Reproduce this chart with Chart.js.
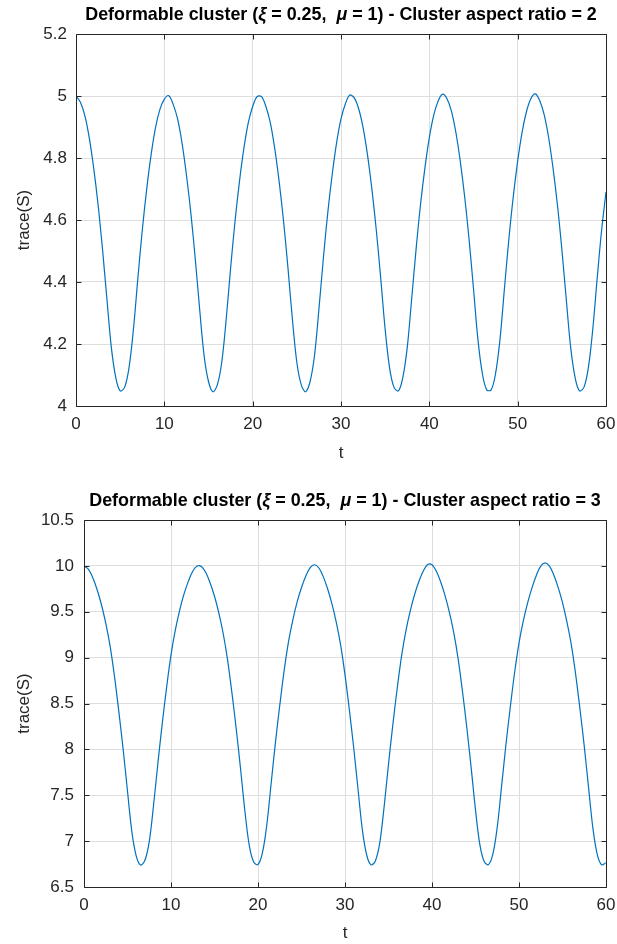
<!DOCTYPE html>
<html>
<head>
<meta charset="utf-8">
<script src="https://cdn.jsdelivr.net/npm/chart.js@4.4.1/dist/chart.umd.min.js"></script>
<style>
  html, body { margin: 0; padding: 0; background: #fff; }
  #fig { position: relative; width: 617px; height: 944px; }
  #fig canvas { position: absolute; left: 0; }
</style>
</head>
<body>
<div id="fig">
  <canvas id="chartAR2" width="617" height="472" style="top:0px"></canvas>
  <canvas id="chartAR3" width="617" height="472" style="top:472px"></canvas>
</div>
<script>
// time samples (read every 0.5 along t)
const tValues = [
  0, 0.5, 1, 1.5, 2, 2.5, 3, 3.5, 4, 4.5, 5, 5.5, 6, 6.5, 7, 7.5, 8, 8.5, 9, 9.5,
  10, 10.5, 11, 11.5, 12, 12.5, 13, 13.5, 14, 14.5, 15, 15.5, 16, 16.5, 17, 17.5, 18, 18.5, 19, 19.5,
  20, 20.5, 21, 21.5, 22, 22.5, 23, 23.5, 24, 24.5, 25, 25.5, 26, 26.5, 27, 27.5, 28, 28.5, 29, 29.5,
  30, 30.5, 31, 31.5, 32, 32.5, 33, 33.5, 34, 34.5, 35, 35.5, 36, 36.5, 37, 37.5, 38, 38.5, 39, 39.5,
  40, 40.5, 41, 41.5, 42, 42.5, 43, 43.5, 44, 44.5, 45, 45.5, 46, 46.5, 47, 47.5, 48, 48.5, 49, 49.5,
  50, 50.5, 51, 51.5, 52, 52.5, 53, 53.5, 54, 54.5, 55, 55.5, 56, 56.5, 57, 57.5, 58, 58.5, 59, 59.5,
  60
];

// trace(S), aspect ratio 2
const traceAR2 = [
  5.000, 4.980, 4.937, 4.866, 4.768, 4.649, 4.506, 4.345, 4.189, 4.092, 4.049, 4.060, 4.123, 4.247, 4.411, 4.566, 4.699, 4.810, 4.898, 4.957,
  4.990, 5.001, 4.973, 4.926, 4.849, 4.746, 4.623, 4.475, 4.312, 4.163, 4.079, 4.046, 4.068, 4.141, 4.279, 4.444, 4.595, 4.723, 4.830, 4.913,
  4.966, 4.998, 4.998, 4.966, 4.913, 4.830, 4.723, 4.595, 4.444, 4.279, 4.141, 4.068, 4.046, 4.079, 4.163, 4.312, 4.475, 4.623, 4.746, 4.849,
  4.926, 4.975, 5.003, 4.994, 4.959, 4.898, 4.810, 4.699, 4.566, 4.411, 4.247, 4.123, 4.060, 4.049, 4.092, 4.189, 4.345, 4.506, 4.649, 4.768,
  4.866, 4.938, 4.984, 5.006, 4.991, 4.951, 4.883, 4.790, 4.675, 4.537, 4.378, 4.215, 4.105, 4.052, 4.052, 4.105, 4.215, 4.378, 4.537, 4.675,
  4.790, 4.883, 4.950, 4.992, 5.007, 4.985, 4.940, 4.867, 4.768, 4.649, 4.506, 4.345, 4.189, 4.092, 4.049, 4.060, 4.123, 4.247, 4.411, 4.566,
  4.690
];

// trace(S), aspect ratio 3
const traceAR3 = [
  10.000, 9.965, 9.873, 9.742, 9.579, 9.375, 9.125, 8.798, 8.414, 8.000, 7.544, 7.104, 6.839, 6.739, 6.791, 6.995, 7.396, 7.856, 8.286, 8.679,
  9.029, 9.302, 9.518, 9.694, 9.834, 9.941, 9.998, 9.994, 9.928, 9.813, 9.669, 9.486, 9.263, 8.978, 8.618, 8.222, 7.783, 7.323, 6.950, 6.773,
  6.745, 6.868, 7.168, 7.617, 8.071, 8.478, 8.855, 9.170, 9.410, 9.608, 9.765, 9.890, 9.982, 10.012, 9.977, 9.883, 9.751, 9.586, 9.384, 9.136,
  8.812, 8.430, 8.018, 7.562, 7.120, 6.846, 6.741, 6.787, 6.984, 7.378, 7.838, 8.270, 8.664, 9.016, 9.292, 9.510, 9.688, 9.832, 9.945, 10.014,
  10.013, 9.942, 9.825, 9.675, 9.494, 9.273, 8.990, 8.634, 8.238, 7.801, 7.341, 6.962, 6.778, 6.744, 6.860, 7.152, 7.599, 8.053, 8.462, 8.841,
  9.158, 9.402, 9.600, 9.763, 9.898, 9.997, 10.033, 9.997, 9.901, 9.766, 9.599, 9.393, 9.147, 8.826, 8.446, 8.036, 7.580, 7.136, 6.853, 6.742,
  6.765
];

// tick labels
const xTicks = [0, 10, 20, 30, 40, 50, 60];
const yTicksAR2 = [4, 4.2, 4.4, 4.6, 4.8, 5, 5.2];
const yTicksAR3 = [6.5, 7, 7.5, 8, 8.5, 9, 9.5, 10, 10.5];

const FONT = "'Liberation Sans', Arial, Helvetica, sans-serif";
Chart.defaults.font.family = FONT;
Chart.defaults.font.size = 17;
Chart.defaults.color = '#262626';

// MATLAB-ish box with ticks pointing inward
const matlabAxes = {
    id: 'matlabAxes',
    afterDraw(chart) {
        const {ctx, chartArea: a, scales: {x, y}} = chart;
        const px = v => Math.round(v) + 0.5;
        const len = 5;
        ctx.save();
        ctx.strokeStyle = '#262626';
        ctx.lineWidth = 1;
        ctx.beginPath();
        ctx.rect(px(a.left), px(a.top), Math.round(a.right) - Math.round(a.left), Math.round(a.bottom) - Math.round(a.top));
        x.ticks.forEach(t => {
            const p = px(x.getPixelForValue(t.value));
            ctx.moveTo(p, px(a.bottom)); ctx.lineTo(p, px(a.bottom) - len);
            ctx.moveTo(p, px(a.top)); ctx.lineTo(p, px(a.top) + len);
        });
        y.ticks.forEach(t => {
            const p = px(y.getPixelForValue(t.value));
            ctx.moveTo(px(a.left), p); ctx.lineTo(px(a.left) + len, p);
            ctx.moveTo(px(a.right), p); ctx.lineTo(px(a.right) - len, p);
        });
        ctx.stroke();
        ctx.restore();
    }
};

// title with italic greek letters
const figTitle = {
    id: 'figTitle',
    afterDraw(chart, args, opts) {
        const {ctx, chartArea: a} = chart;
        const parts = [
            ['Deformable cluster (', false],
            ['\u03BE', true],
            [' = 0.25,  ', false],
            ['\u03BC', true],
            [' = 1) - Cluster aspect ratio = ' + opts.ratio, false]
        ];
        const fontFor = it => (it ? 'italic ' : '') + 'bold 17.9px ' + FONT;
        ctx.save();
        ctx.fillStyle = '#000';
        ctx.textBaseline = 'middle';
        ctx.textAlign = 'left';
        let total = 0;
        parts.forEach(([s, it]) => { ctx.font = fontFor(it); total += ctx.measureText(s).width; });
        let xPos = (a.left + a.right) / 2 - total / 2;
        parts.forEach(([s, it]) => {
            ctx.font = fontFor(it);
            ctx.fillText(s, xPos, opts.y);
            xPos += ctx.measureText(s).width;
        });
        ctx.restore();
    }
};

function makePlot(id, series, yTicks, ratio, box) {
    return new Chart(document.getElementById(id), {
        type: 'line',
        data: {
            datasets: [{
                data: tValues.map((t, i) => ({x: t, y: series[i]})),
                borderColor: '#0072BD',
                borderWidth: 1.2,
                pointRadius: 0,
                fill: false,
                tension: 0.35
            }]
        },
        options: {
            responsive: false,
            animation: false,
            events: [],
            layout: { padding: { top: box.top, right: 0, left: 0, bottom: 0 } },
            plugins: {
                legend: { display: false },
                tooltip: { enabled: false },
                figTitle: { ratio: ratio, y: box.titleY }
            },
            scales: {
                x: {
                    type: 'linear', min: 0, max: 60,
                    afterBuildTicks: s => { s.ticks = xTicks.map(v => ({value: v})); },
                    afterFit: s => { s.height = box.xHeight; s.paddingLeft = 0; s.paddingRight = 11; },
                    grid: { color: '#dedede', drawTicks: false },
                    border: { display: false },
                    ticks: { padding: 8, maxRotation: 0, autoSkip: false, callback: v => String(v) },
                    title: { display: true, text: 't', color: '#262626', padding: { top: 0, bottom: box.tPad } }
                },
                y: {
                    type: 'linear', min: yTicks[0], max: yTicks[yTicks.length - 1],
                    afterBuildTicks: s => { s.ticks = yTicks.map(v => ({value: v})); },
                    afterFit: s => { s.width = box.yWidth; },
                    grid: { color: '#dedede', drawTicks: false },
                    border: { display: false },
                    ticks: { padding: box.yPad, autoSkip: false, callback: v => String(v) },
                    title: { display: true, text: 'trace(S)', color: '#262626', padding: { top: 14, bottom: 0 } }
                }
            }
        },
        plugins: [matlabAxes, figTitle]
    });
}

makePlot('chartAR2', traceAR2, yTicksAR2, 2, { top: 34, titleY: 15, xHeight: 66, yWidth: 76, yPad: 9, tPad: 8 });
makePlot('chartAR3', traceAR3, yTicksAR3, 3, { top: 48, titleY: 29, xHeight: 57, yWidth: 84, yPad: 10, tPad: 0 });
</script>
</body>
</html>
